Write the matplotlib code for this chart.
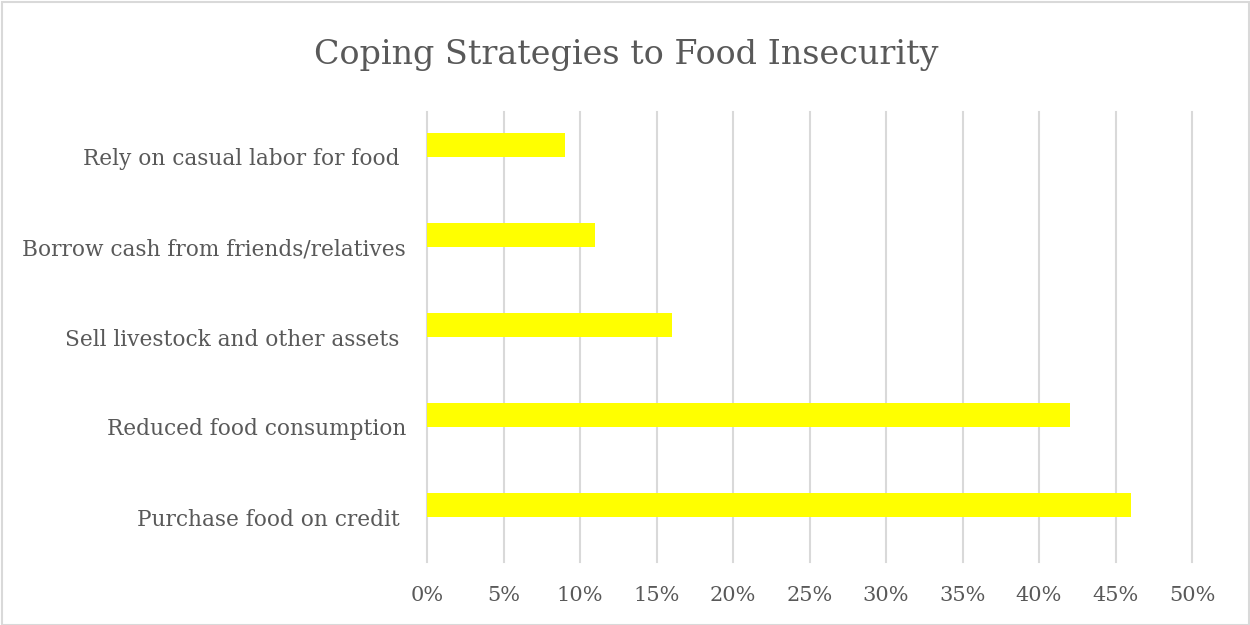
import matplotlib
matplotlib.use("Agg")
import matplotlib.pyplot as plt
from matplotlib.patches import Rectangle
from matplotlib.ticker import PercentFormatter

categories = ["Purchase food on credit ", "Reduced food consumption", "Sell livestock and other assets ",
              "Borrow cash from friends/relatives", "Rely on casual labor for food "]
values = [0.46, 0.42, 0.16, 0.11, 0.09]
xticks = [0, 0.05, 0.10, 0.15, 0.20, 0.25, 0.30, 0.35, 0.40, 0.45, 0.50]

plt.rcParams['font.family'] = ['DejaVu Serif']
txt = '#595959'
grid = '#d9d9d9'

fig = plt.figure(figsize=(12.5, 6.25), dpi=100)
fig.patches.append(Rectangle((0.0016, 0.0), 0.9976, 0.9968, transform=fig.transFigure,
                             fill=False, edgecolor=grid, linewidth=1.5))
ax = fig.add_axes([0.3416, 0.1008, 0.612, 0.72])
ypos = list(range(len(categories)))
ax.barh(ypos, values, height=0.267, align='edge', color='#ffff00', zorder=3)
ax.set_xlim(0, 0.5)
ax.set_ylim(-0.5, 4.5)
ax.set_xticks(xticks)
ax.xaxis.set_major_formatter(PercentFormatter(1.0, decimals=0))
ax.set_yticks(ypos)
ax.set_yticklabels(categories)
ax.tick_params(axis='x', length=0, colors=txt, labelsize=15, pad=17)
ax.tick_params(axis='y', length=0, colors=txt, labelsize=15.6, pad=15)
for s in ax.spines.values():
    s.set_visible(False)
ax.grid(axis='x', color=grid, linewidth=1.5, zorder=0)
for gl in ax.get_xgridlines():
    gl.set_clip_on(False)
ax.set_axisbelow(True)
fig.text(0.5008, 0.912, "Coping Strategies to Food Insecurity", ha='center', va='center',
         fontsize=24, color=txt)
fig.savefig("out.png", dpi=100)
